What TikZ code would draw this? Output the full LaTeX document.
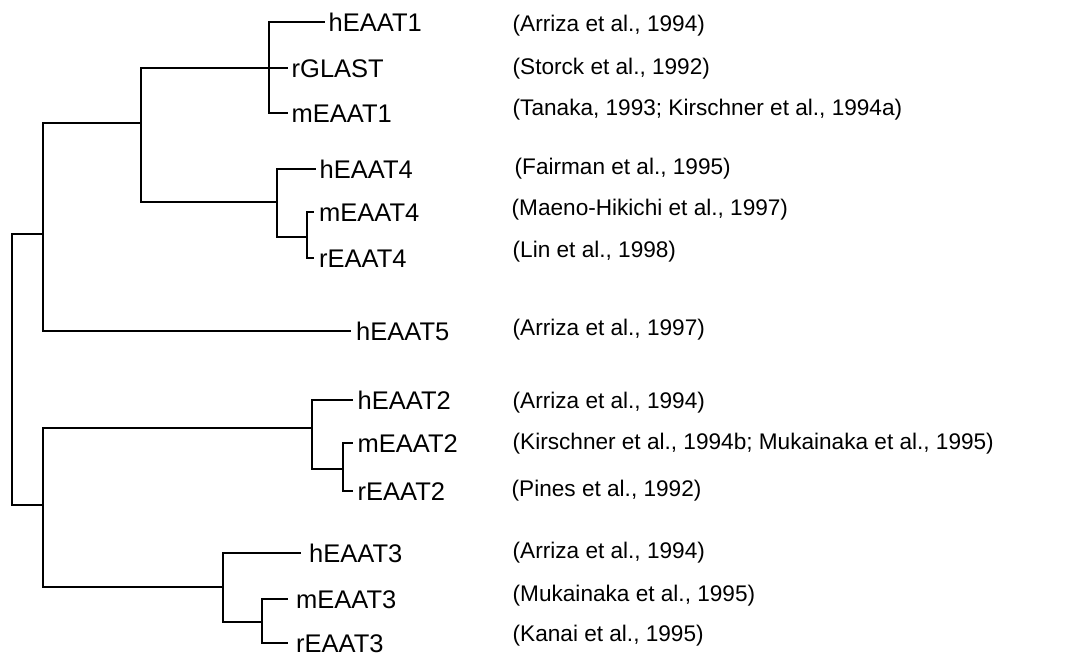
\documentclass[tikz,border=0pt]{standalone}
\usepackage{fontspec}
\setmainfont{Liberation Sans}
\begin{document}
\begin{tikzpicture}[x=1pt,y=-1pt,
  branch/.style={line width=1.2pt, line cap=rect},
  leaf/.style={anchor=west, inner xsep=4.5pt, inner ysep=0pt, text height=18.3pt, text depth=0pt,
    font=\fontsize{25.5}{30}\selectfont},
  ref/.style={anchor=west, inner sep=0pt, text height=16.2pt, text depth=0pt,
    font=\fontsize{22.6}{27}\selectfont}]
\useasboundingbox (0,0) rectangle (1084,656);
% leaves
\node[leaf] (hEAAT1) at (324,22) {hEAAT1};
\node[leaf] (rGLAST) at (287,68) {rGLAST};
\node[leaf] (mEAAT1) at (287,113) {mEAAT1};
\node[leaf] (hEAAT4) at (315,169) {hEAAT4};
\node[leaf,inner xsep=6pt] (mEAAT4) at (313,212) {mEAAT4};
\node[leaf,inner xsep=6pt] (rEAAT4) at (313,258) {rEAAT4};
\node[leaf,inner xsep=6pt] (hEAAT5) at (350,331) {hEAAT5};
\node[leaf,inner xsep=5.5pt] (hEAAT2) at (352,400) {hEAAT2};
\node[leaf,inner xsep=5.5pt] (mEAAT2) at (352,443) {mEAAT2};
\node[leaf,inner xsep=5.5pt] (rEAAT2) at (352,491) {rEAAT2};
\node[leaf,inner xsep=9pt] (hEAAT3) at (300,553) {hEAAT3};
\node[leaf,inner xsep=9pt] (mEAAT3) at (287,599) {mEAAT3};
\node[leaf,inner xsep=9pt] (rEAAT3) at (287,643) {rEAAT3};
% internal nodes
\coordinate (a1) at (269,68);
\coordinate (a4i) at (307,237);
\coordinate (a4) at (277,202);
\coordinate (b) at (141,123);
\coordinate (c) at (43,234);
\coordinate (d2i) at (343,469);
\coordinate (d2) at (312,428);
\coordinate (d3i) at (262,622);
\coordinate (d3) at (223,587);
\coordinate (e) at (43,505);
\coordinate (root) at (12,370);
% branches
\draw[branch] (a1) |- (hEAAT1.west);
\draw[branch] (a1) |- (rGLAST.west);
\draw[branch] (a1) |- (mEAAT1.west);
\draw[branch] (a4i) |- (mEAAT4.west);
\draw[branch] (a4i) |- (rEAAT4.west);
\draw[branch] (a4) |- (hEAAT4.west);
\draw[branch] (a4) |- (a4i);
\draw[branch] (b) |- (a1);
\draw[branch] (b) |- (a4);
\draw[branch] (c) |- (b);
\draw[branch] (c) |- (hEAAT5.west);
\draw[branch] (d2i) |- (mEAAT2.west);
\draw[branch] (d2i) |- (rEAAT2.west);
\draw[branch] (d2) |- (hEAAT2.west);
\draw[branch] (d2) |- (d2i);
\draw[branch] (d3i) |- (mEAAT3.west);
\draw[branch] (d3i) |- (rEAAT3.west);
\draw[branch] (d3) |- (hEAAT3.west);
\draw[branch] (d3) |- (d3i);
\draw[branch] (e) |- (d2);
\draw[branch] (e) |- (d3);
\draw[branch] (root) |- (c);
\draw[branch] (root) |- (e);
% references
\node[ref] (r1) at (512.5,22.9) {(Arriza et al., 1994)};
\node[ref] (r2) at (512.5,65.9) {(Storck et al., 1992)};
\node[ref] (r3) at (512.5,106.9) {(Tanaka, 1993; Kirschner et al., 1994a)};
\node[ref] (r4) at (514.5,166.2) {(Fairman et al., 1995)};
\node[ref] (r5) at (511.5,206.9) {(Maeno-Hikichi et al., 1997)};
\node[ref] (r6) at (512.5,249.6) {(Lin et al., 1998)};
\node[ref] (r7) at (512.5,326.9) {(Arriza et al., 1997)};
\node[ref] (r8) at (512.5,400.2) {(Arriza et al., 1994)};
\node[ref] (r9) at (512.5,441.2) {(Kirschner et al., 1994b; Mukainaka et al., 1995)};
\node[ref] (r10) at (511.5,487.9) {(Pines et al., 1992)};
\node[ref] (r11) at (512.5,550.2) {(Arriza et al., 1994)};
\node[ref] (r12) at (512.5,593.6) {(Mukainaka et al., 1995)};
\node[ref] (r13) at (512.5,633.6) {(Kanai et al., 1995)};
\end{tikzpicture}
\end{document}
